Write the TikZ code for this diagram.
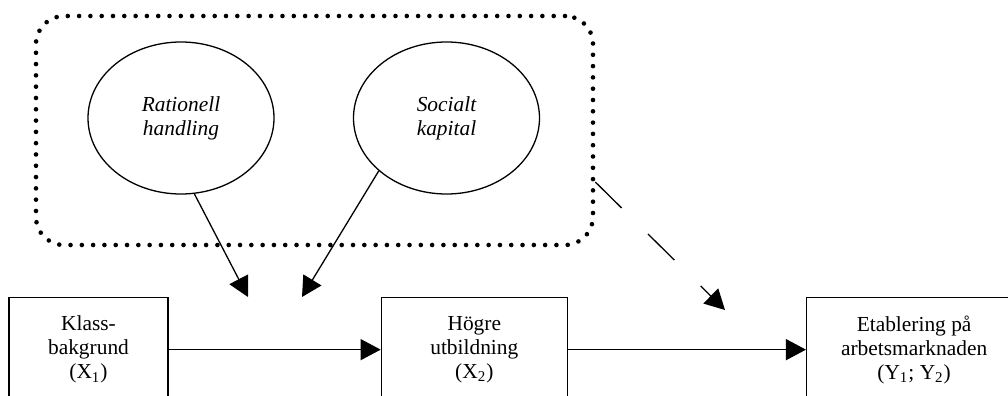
\documentclass[tikz,border=0pt]{standalone}
\usepackage{fontspec}
\setmainfont{Liberation Serif}
\tikzset{>=stealth}
\usetikzlibrary{arrows.meta}
\usetikzlibrary{shapes.geometric,positioning}
\tikzset{>={Triangle[length=10pt,width=10.5pt]}}
\tikzset{
	ruta/.style={draw,line width=.65pt,minimum width=#1,minimum height=52pt,inner sep=0pt,align=center,font=\fontsize{10.7}{12}\selectfont},
	latent/.style={ellipse,draw,line width=.65pt,minimum width=93pt,minimum height=76pt,inner sep=0pt,align=center,font=\fontsize{10.7}{12}\selectfont\itshape},
	grupp/.style={draw,line width=2.3pt,dash pattern=on 0pt off 5.65pt,line cap=round,rounded corners=14pt,minimum width=278.5pt,minimum height=114.5pt},
	pil/.style={line width=.65pt}
}

\begin{document}
\begin{tikzpicture}[x=0.5pt,y=-0.5pt]
				\useasboundingbox (0,0) rectangle (1008,396);
				\node[grupp] (grupp) at (314.5,130.5) {};
				\node[latent] (rat) at (181,118) {Rationell\\handling};
				\node[latent] (soc) at (446.5,118) {Socialt\\kapital};
				\node[ruta=79.5pt,anchor=north] (klass) at (88.5,297) {Klass-\\bakgrund\\(X\textsubscript{1})};
				\node[ruta=93pt,right=106pt of klass] (hogre) {Högre\\utbildning\\(X\textsubscript{2})};
				\node[ruta=107.5pt,right=119pt of hogre] (etabl) {Etablering på\\arbetsmarknaden\\(Y\textsubscript{1}; Y\textsubscript{2})};
				\coordinate (pil1) at (248,297);
				\coordinate (pil2) at (302,297);
				\coordinate (pil3) at (725,310);
				\draw[pil,->] (klass) -- (hogre);
				\draw[pil,->] (hogre) -- (etabl);
				\draw[pil,->] (rat.-80) -- (pil1);
				\draw[pil,->] (soc.-142) -- (pil2);
				%streckad pil fran gruppen
				\draw[pil,->,dash pattern=on 18.5pt off 18.5pt] ([yshift=-25.75pt]grupp.east) -- (pil3);
				\end{tikzpicture}
\end{document}
